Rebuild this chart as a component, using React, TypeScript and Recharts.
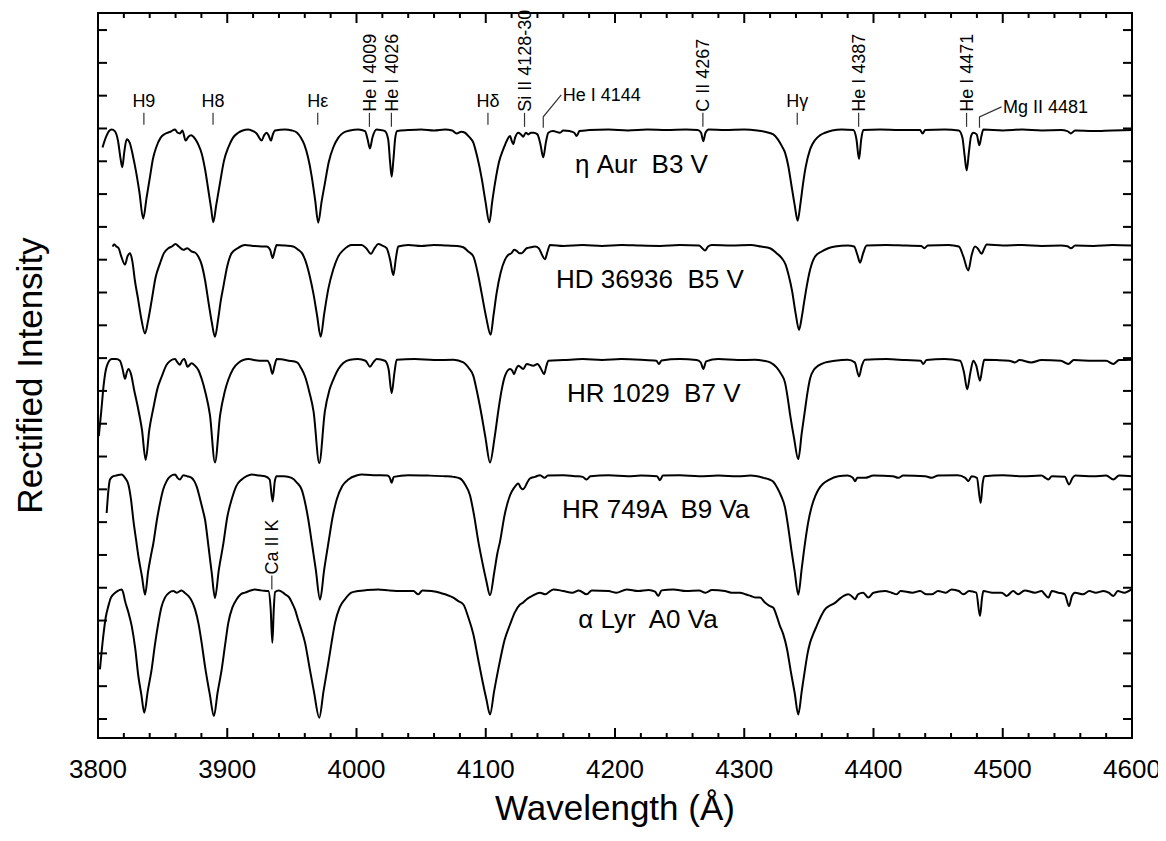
import { LineChart, Line, XAxis, YAxis, ReferenceDot } from "recharts";

const FONT = 'Arial, "Liberation Sans", Helvetica, sans-serif';

// wavelength ticks (Å), minor every 20, labelled every 100
const xTicks = [
  3800, 3820, 3840, 3860, 3880, 3900, 3920, 3940, 3960, 3980, 4000, 4020, 4040, 4060,
  4080, 4100, 4120, 4140, 4160, 4180, 4200, 4220, 4240, 4260, 4280, 4300, 4320, 4340,
  4360, 4380, 4400, 4420, 4440, 4460, 4480, 4500, 4520, 4540, 4560, 4580, 4600,
];
const yTicks = [
  0, 0.1, 0.2, 0.3, 0.4, 0.5, 0.6, 0.7, 0.8, 0.9, 1.0, 1.1, 1.2, 1.3, 1.4, 1.5, 1.6,
  1.7, 1.8, 1.9, 2.0, 2.1,
];

// rectified intensity (continuum = 1): [wavelength, intensity]
const etaAur = [
  [3803.5, 0.945], [3806, 0.975], [3808.5, 0.995], [3810.6, 1.0], [3813, 0.995], [3815.5, 0.965],
  [3817.5, 0.91], [3818.8, 0.885], [3820.3, 0.93], [3822.2, 0.97], [3824.5, 0.96], [3827, 0.92],
  [3829.5, 0.87], [3832, 0.81], [3835, 0.728], [3837.5, 0.79], [3840, 0.85], [3842.5, 0.91],
  [3845, 0.945], [3848.5, 0.975], [3852, 0.987], [3856, 0.993], [3859.6, 1.0], [3861.5, 0.99],
  [3863.4, 0.988], [3865.3, 0.997], [3867.8, 0.966], [3870, 0.978], [3872, 0.982], [3875, 0.972],
  [3877.5, 0.955], [3880.2, 0.927], [3883, 0.875], [3885.3, 0.817], [3887.5, 0.76], [3889.2, 0.717],
  [3891.5, 0.77], [3894.4, 0.837], [3897.5, 0.905], [3900.8, 0.945], [3904.5, 0.975], [3908.5, 0.99],
  [3912, 0.997], [3916.3, 1.0], [3920, 0.995], [3922.8, 0.987], [3924.7, 0.975], [3926.6, 0.966],
  [3928.5, 0.982], [3930.5, 0.99], [3932.2, 0.98], [3933.8, 0.966], [3935.3, 0.985], [3937, 0.997],
  [3944.7, 1.0], [3950, 0.997], [3954, 0.99], [3957, 0.975], [3959.5, 0.955], [3962.5, 0.915],
  [3965.3, 0.858], [3968, 0.785], [3970.4, 0.716], [3973, 0.78], [3975.6, 0.837], [3978.5, 0.9],
  [3982, 0.945], [3986, 0.975], [3989.8, 0.99], [3995, 0.997], [4001.4, 1.0], [4006.6, 0.995],
  [4008.6, 0.97], [4010.4, 0.942], [4012.3, 0.975], [4015.6, 1.0], [4019, 0.998], [4022, 0.995],
  [4024.5, 0.97], [4026, 0.9], [4027.2, 0.856], [4028.6, 0.91], [4030, 0.975], [4031.5, 0.995],
  [4040, 0.998], [4050, 1.0], [4060, 0.997], [4068.5, 1.0], [4074, 0.997], [4077.5, 0.988],
  [4081, 0.993], [4084, 0.99], [4087, 0.978], [4090.4, 0.96], [4093.5, 0.915], [4096.9, 0.85],
  [4099.8, 0.78], [4102.8, 0.717], [4105, 0.78], [4107.2, 0.837], [4110.2, 0.9], [4113.6, 0.94],
  [4116.2, 0.965], [4118.8, 0.98], [4120.1, 0.965], [4121.3, 0.955], [4122.7, 0.975], [4125.2, 0.99],
  [4127.2, 0.985], [4129, 0.978], [4131, 0.99], [4132.9, 0.985], [4135, 0.99], [4137, 0.99],
  [4140, 0.985], [4142.3, 0.955], [4144.5, 0.915], [4146.5, 0.96], [4148.4, 0.99], [4152, 0.995],
  [4157.4, 0.99], [4160, 0.997], [4165, 0.995], [4168.5, 0.99], [4170.3, 0.98], [4172.5, 0.995],
  [4180, 0.998], [4195, 1.0], [4210, 0.997], [4225, 1.0], [4240, 0.998], [4255, 1.0], [4264, 0.998],
  [4266.6, 0.99], [4268.3, 0.964], [4270, 0.99], [4272.5, 1.0], [4285, 0.998], [4300, 1.0],
  [4310, 0.997], [4316, 0.993], [4322.5, 0.985], [4326, 0.97], [4329, 0.95], [4331.5, 0.93],
  [4334, 0.89], [4336.5, 0.83], [4339, 0.77], [4341.3, 0.722], [4343.5, 0.775], [4345.5, 0.835],
  [4347.5, 0.885], [4351, 0.94], [4354.8, 0.968], [4358.5, 0.982], [4362.5, 0.99], [4368, 0.997],
  [4375.4, 1.0], [4384.4, 0.998], [4386.8, 0.97], [4388.8, 0.91], [4390.5, 0.97], [4392.1, 0.998],
  [4405, 1.0], [4420, 0.998], [4436, 0.998], [4438, 0.988], [4440, 0.998], [4455, 1.0],
  [4466, 0.997], [4468.8, 0.975], [4470.5, 0.92], [4472.1, 0.875], [4473.8, 0.93], [4475.5, 0.98],
  [4477.2, 0.99], [4479.8, 0.985], [4481.9, 0.952], [4483.5, 0.98], [4485, 1.0], [4500, 0.997],
  [4515, 1.0], [4530, 0.997], [4545, 0.998], [4550, 0.995], [4552.8, 0.988], [4556, 0.997],
  [4570, 0.995], [4585, 0.997], [4600, 0.998],
];

const hd36936 = [
  [3811.3, 0.995], [3812.5, 1.002], [3814, 0.996], [3816, 0.99], [3818, 0.965], [3820.9, 0.94],
  [3822.8, 0.965], [3824.8, 0.975], [3826.6, 0.95], [3828.6, 0.89], [3831, 0.835], [3833.5, 0.775],
  [3836.4, 0.73], [3838.8, 0.77], [3841.5, 0.83], [3844.5, 0.9], [3848, 0.944], [3851, 0.975],
  [3854.4, 0.99], [3857, 0.995], [3860, 1.003], [3862.5, 0.995], [3866, 0.985], [3869, 0.99],
  [3872.5, 0.98], [3875, 0.977], [3877.6, 0.965], [3880.2, 0.94], [3882.8, 0.893], [3885.5, 0.825],
  [3888, 0.765], [3890.5, 0.72], [3893, 0.775], [3895, 0.83], [3897, 0.873], [3900, 0.935],
  [3903.4, 0.975], [3908, 0.99], [3913.7, 1.0], [3920, 0.997], [3926.6, 0.995], [3930.5, 0.995],
  [3933.2, 0.985], [3935.1, 0.96], [3936.7, 0.982], [3938.2, 1.0], [3945, 0.998], [3951, 0.995],
  [3955, 0.985], [3957.8, 0.975], [3960.2, 0.955], [3963.5, 0.91], [3966.6, 0.853], [3969.5, 0.785],
  [3972.3, 0.72], [3975, 0.79], [3978.2, 0.866], [3982, 0.925], [3985.9, 0.965], [3990, 0.985],
  [3996.3, 1.0], [4004, 1.0], [4007.5, 0.99], [4011.2, 0.973], [4014, 0.99], [4016.9, 1.003],
  [4020, 0.998], [4023.3, 0.99], [4026, 0.955], [4028.5, 0.908], [4030.5, 0.96], [4032.3, 0.995],
  [4040, 1.0], [4050, 0.997], [4060, 1.0], [4070, 0.998], [4078, 0.997], [4082.6, 0.993],
  [4086.5, 0.98], [4090.4, 0.965], [4093.5, 0.92], [4096.8, 0.853], [4100.3, 0.78], [4103.8, 0.726],
  [4106, 0.785], [4108.4, 0.853], [4111.5, 0.915], [4114.9, 0.955], [4117.5, 0.97], [4120, 0.975],
  [4122, 0.985], [4123.9, 0.982], [4126, 0.975], [4127.8, 0.975], [4131.6, 0.99], [4135, 0.993],
  [4138.1, 0.995], [4141, 0.99], [4143.5, 0.97], [4145.8, 0.956], [4147.8, 0.98], [4149.7, 1.0],
  [4160, 0.997], [4175, 1.0], [4190, 0.997], [4205, 1.0], [4220, 0.998], [4235, 0.997], [4250, 1.0],
  [4265, 0.998], [4267.5, 0.99], [4269.6, 0.983], [4272, 0.995], [4275, 1.0], [4290, 0.998],
  [4305, 1.0], [4313, 0.995], [4319.9, 0.99], [4325, 0.975], [4329, 0.96], [4332, 0.94],
  [4334.5, 0.905], [4337, 0.86], [4339.8, 0.79], [4342.4, 0.741], [4344.5, 0.78], [4346.5, 0.83],
  [4348.3, 0.873], [4351, 0.925], [4354.7, 0.964], [4359.9, 0.98], [4365, 0.99], [4370.2, 0.995],
  [4380, 0.998], [4385, 0.995], [4387.5, 0.97], [4389.6, 0.946], [4392, 0.975], [4394.7, 0.998],
  [4410, 1.0], [4425, 0.998], [4437, 0.997], [4439.3, 0.99], [4442, 0.998], [4458, 1.0],
  [4466, 0.995], [4469.5, 0.965], [4473.3, 0.922], [4476, 0.97], [4478.5, 0.995], [4480.5, 0.99],
  [4483.6, 0.973], [4485.8, 0.99], [4487.5, 1.001], [4500, 0.998], [4515, 1.0], [4530, 0.997],
  [4545, 0.998], [4550, 0.996], [4552.8, 0.99], [4556, 0.998], [4570, 0.997], [4585, 1.0],
  [4600, 0.998],
];

const hr1029 = [
  [3800.6, 0.765], [3802.5, 0.84], [3804.5, 0.925], [3806.7, 0.977], [3810.6, 1.0], [3814, 1.0],
  [3817, 0.995], [3819, 0.97], [3820.9, 0.94], [3822.3, 0.96], [3823.6, 0.97], [3825.5, 0.955],
  [3828, 0.905], [3831, 0.85], [3834, 0.785], [3836.9, 0.693], [3839.7, 0.785], [3842.8, 0.85],
  [3846, 0.91], [3849.3, 0.947], [3853.1, 0.983], [3856, 0.995], [3859.6, 1.0], [3861.5, 0.99],
  [3863.4, 0.983], [3865, 0.995], [3866.8, 1.0], [3869.3, 0.977], [3872.4, 0.987], [3875, 0.98],
  [3877.6, 0.967], [3880.2, 0.94], [3883, 0.9], [3886.6, 0.83], [3890.5, 0.685], [3894.5, 0.83],
  [3898, 0.9], [3900.8, 0.937], [3904.5, 0.97], [3908.5, 0.988], [3916.3, 1.0], [3925, 0.995],
  [3931, 0.995], [3933.2, 0.98], [3934.9, 0.955], [3936.6, 0.98], [3938.3, 1.0], [3948, 0.995],
  [3954, 0.99], [3957.2, 0.972], [3960.2, 0.947], [3963.5, 0.9], [3966.8, 0.84], [3971.2, 0.683],
  [3975.5, 0.84], [3979, 0.905], [3982, 0.937], [3986, 0.97], [3989.8, 0.988], [3995, 0.998],
  [4001, 1.0], [4007, 0.995], [4010.4, 0.977], [4013, 0.99], [4015.6, 1.0], [4022, 0.995],
  [4024.8, 0.97], [4027.2, 0.896], [4029.4, 0.96], [4031.1, 0.998], [4045, 1.0], [4060, 0.997],
  [4075, 0.998], [4082.7, 0.99], [4087, 0.972], [4090.4, 0.949], [4093, 0.905], [4096.5, 0.835],
  [4099.8, 0.76], [4103.3, 0.685], [4106.8, 0.76], [4110, 0.85], [4112.5, 0.91], [4114.9, 0.949],
  [4118.8, 0.97], [4120.5, 0.965], [4121.9, 0.954], [4123.5, 0.97], [4125.2, 0.98], [4129, 0.97],
  [4131.7, 0.985], [4136.8, 0.98], [4140, 0.985], [4142.8, 0.97], [4145.1, 0.954], [4147, 0.98],
  [4148.4, 0.995], [4160, 0.997], [4175, 1.0], [4190, 0.997], [4205, 1.0], [4220, 0.998],
  [4232, 0.995], [4234, 0.985], [4236, 0.996], [4250, 1.0], [4263, 0.997], [4266.3, 0.99],
  [4268.3, 0.97], [4270.5, 0.993], [4280, 1.0], [4295, 0.997], [4308, 0.998], [4315, 0.995],
  [4320, 0.99], [4325, 0.975], [4328.5, 0.955], [4331.5, 0.929], [4333.5, 0.885], [4335.5, 0.83],
  [4338.5, 0.76], [4341.8, 0.695], [4344.5, 0.775], [4347, 0.845], [4349, 0.9], [4350.9, 0.94],
  [4354, 0.968], [4357.3, 0.98], [4363, 0.99], [4370.2, 0.995], [4380, 0.998], [4385.5, 0.99],
  [4388.8, 0.947], [4391, 0.98], [4393.4, 0.998], [4410, 1.0], [4425, 0.997], [4436.5, 0.995],
  [4438.5, 0.985], [4441, 0.997], [4455, 1.0], [4467, 0.995], [4470, 0.96], [4472.5, 0.908],
  [4475, 0.96], [4477.2, 0.995], [4479.5, 0.98], [4482.4, 0.934], [4484.3, 0.975], [4485.7, 0.998],
  [4495, 0.997], [4505, 0.995], [4509.4, 0.99], [4513, 0.997], [4522, 0.99], [4530, 0.997],
  [4545, 0.995], [4550.7, 0.985], [4555, 0.997], [4570, 0.995], [4580, 0.995], [4585.5, 0.985],
  [4590, 0.997], [4600, 0.998],
];

const hr749a = [
  [3806.7, 0.883], [3808, 0.95], [3809.3, 0.985], [3811.9, 0.995], [3815, 0.998], [3818.3, 1.0],
  [3820.9, 0.99], [3823.5, 0.97], [3825.5, 0.925], [3827.3, 0.863], [3829.5, 0.8], [3831.5, 0.745],
  [3834, 0.69], [3836.4, 0.634], [3838.8, 0.705], [3840.8, 0.75], [3842.8, 0.79], [3845.5, 0.86],
  [3848, 0.913], [3850.5, 0.955], [3853.1, 0.98], [3856, 0.995], [3859.6, 1.0], [3861.5, 0.99],
  [3863.4, 0.985], [3866, 0.998], [3869, 0.995], [3872.5, 0.99], [3874.5, 0.98], [3876.3, 0.964],
  [3879, 0.925], [3880.9, 0.895], [3882.8, 0.863], [3885.5, 0.78], [3888, 0.7], [3890.5, 0.624],
  [3893.5, 0.71], [3897, 0.79], [3900, 0.87], [3903.4, 0.924], [3907, 0.965], [3911.2, 0.985],
  [3915, 0.995], [3918.9, 1.0], [3925, 0.997], [3929.2, 0.995], [3932.8, 0.985], [3935.1, 0.918],
  [3936.8, 0.98], [3938.2, 0.995], [3944, 0.995], [3949.8, 0.99], [3954, 0.975], [3957.6, 0.954],
  [3960.2, 0.915], [3962.7, 0.863], [3965.5, 0.79], [3968.5, 0.71], [3971.8, 0.619], [3975, 0.71],
  [3978.2, 0.79], [3981.5, 0.87], [3984.7, 0.924], [3989, 0.965], [3993.7, 0.985], [4000, 0.997],
  [4004, 1.0], [4015, 0.998], [4024, 0.997], [4025.8, 0.99], [4027.2, 0.975], [4028.8, 0.993],
  [4040, 0.998], [4055, 0.997], [4068.5, 0.995], [4075, 0.993], [4080.1, 0.988], [4084, 0.97],
  [4087.8, 0.937], [4091, 0.875], [4094.3, 0.795], [4097.5, 0.73], [4100.5, 0.675], [4103.3, 0.632],
  [4106.5, 0.7], [4109, 0.76], [4111, 0.795], [4114.5, 0.875], [4118.8, 0.937], [4122, 0.96],
  [4125.2, 0.973], [4127, 0.96], [4128.5, 0.955], [4130.4, 0.962], [4132, 0.975], [4134.2, 0.988],
  [4138, 0.993], [4142, 0.998], [4145.5, 0.99], [4148, 0.997], [4160, 0.998], [4170, 0.995],
  [4175, 0.993], [4178, 0.985], [4181, 0.995], [4195, 0.998], [4210, 0.995], [4220, 0.997],
  [4232.5, 0.995], [4234.8, 0.983], [4237, 0.997], [4250, 0.998], [4265, 0.995], [4280, 0.997],
  [4295, 0.995], [4305, 0.997], [4315, 0.99], [4319.5, 0.985], [4322.5, 0.978], [4325.5, 0.96],
  [4328.5, 0.935], [4331.5, 0.9], [4334, 0.84], [4336.5, 0.77], [4339, 0.705], [4341.8, 0.634],
  [4344.5, 0.715], [4347, 0.791], [4349.5, 0.855], [4352.2, 0.903], [4355, 0.935], [4357.3, 0.954],
  [4361, 0.972], [4365.1, 0.983], [4372.8, 0.995], [4380, 0.997], [4384, 0.99], [4385.7, 0.98],
  [4387.5, 0.99], [4393.4, 0.99], [4400, 0.997], [4415, 0.995], [4419.2, 0.99], [4423, 0.997],
  [4440, 0.995], [4445, 0.99], [4450, 0.997], [4465, 0.998], [4471, 0.99], [4473.4, 0.98],
  [4476, 0.995], [4480, 0.99], [4482.9, 0.913], [4484.5, 0.975], [4485.7, 0.995], [4500, 0.998],
  [4515, 0.995], [4530, 0.997], [4533, 0.99], [4535.3, 0.985], [4538, 0.995], [4548, 0.993],
  [4551.3, 0.97], [4554, 0.99], [4556, 0.997], [4570, 0.995], [4580, 0.997], [4585.6, 0.985],
  [4590, 0.997], [4600, 0.995],
];

const alphaLyr = [
  [3801.5, 0.756], [3804.1, 0.858], [3806, 0.915], [3808, 0.949], [3810, 0.975], [3811.9, 0.985],
  [3815, 0.995], [3818.3, 1.0], [3819.5, 0.99], [3820.9, 0.965], [3823.5, 0.93], [3826.1, 0.888],
  [3828.8, 0.82], [3831.2, 0.736], [3833.5, 0.68], [3835.8, 0.624], [3838.5, 0.69], [3841.5, 0.756],
  [3844, 0.83], [3846.7, 0.898], [3849, 0.945], [3851.8, 0.975], [3855, 0.99], [3858.3, 0.995],
  [3861, 0.99], [3864.7, 0.997], [3867, 0.99], [3869.9, 0.98], [3872.5, 0.965], [3875.1, 0.939],
  [3877.8, 0.895], [3880.2, 0.837], [3883, 0.76], [3886.5, 0.68], [3889.7, 0.614], [3892.5, 0.685],
  [3895.7, 0.756], [3898.3, 0.83], [3900.8, 0.898], [3904, 0.945], [3907.3, 0.97], [3910.5, 0.985],
  [3913.7, 0.99], [3917, 0.995], [3921.5, 1.0], [3926, 0.997], [3931.8, 0.995], [3933.6, 0.94],
  [3934.9, 0.837], [3936, 0.94], [3937, 0.992], [3940, 0.997], [3944.7, 0.985], [3948, 0.975],
  [3950, 0.96], [3952.4, 0.939], [3955, 0.905], [3957.5, 0.875], [3960.2, 0.837], [3963.5, 0.765],
  [3967, 0.69], [3971.2, 0.609], [3974.5, 0.69], [3978.2, 0.776], [3980.8, 0.84], [3983.4, 0.898],
  [3987, 0.945], [3991.1, 0.97], [3996, 0.99], [4001.4, 0.995], [4008, 0.998], [4016.9, 1.0],
  [4025, 0.997], [4035, 0.995], [4044, 0.995], [4047.8, 0.985], [4051, 0.997], [4058, 0.995],
  [4064.6, 0.99], [4068.5, 0.985], [4074.9, 0.975], [4078.5, 0.965], [4082.7, 0.954], [4086.5, 0.915],
  [4090.4, 0.863], [4094, 0.79], [4097.5, 0.72], [4100.5, 0.665], [4103.3, 0.619], [4106.5, 0.69],
  [4111, 0.782], [4114.5, 0.845], [4118.8, 0.893], [4122.5, 0.93], [4126.5, 0.954], [4129, 0.96],
  [4131.7, 0.97], [4136, 0.98], [4142, 0.99], [4146, 0.985], [4152.3, 1.0], [4160, 0.995],
  [4167, 0.99], [4172, 0.997], [4178.1, 0.985], [4182, 0.997], [4195, 0.995], [4201, 0.99],
  [4209, 1.0], [4218, 0.995], [4226, 0.998], [4231, 0.993], [4233.5, 0.98], [4236, 0.997],
  [4245.1, 1.0], [4255, 0.995], [4265, 0.997], [4270, 0.99], [4275, 0.998], [4285, 0.995],
  [4290, 0.99], [4296.7, 0.99], [4301, 0.985], [4305, 0.98], [4309, 0.975], [4312.2, 0.975],
  [4316, 0.96], [4319.5, 0.95], [4322.5, 0.944], [4325, 0.92], [4327.5, 0.89], [4330.2, 0.863],
  [4333, 0.82], [4336, 0.75], [4339, 0.685], [4341.8, 0.619], [4344.5, 0.69], [4347, 0.756],
  [4349, 0.805], [4350.9, 0.837], [4353.5, 0.865], [4356, 0.888], [4359, 0.915], [4362.5, 0.939],
  [4366, 0.95], [4370.2, 0.959], [4375, 0.975], [4380.5, 0.985], [4383, 0.98], [4385.7, 0.97],
  [4388, 0.985], [4392, 0.99], [4396, 0.975], [4400, 0.99], [4408.9, 0.995], [4414, 0.99],
  [4417.9, 0.985], [4421, 0.995], [4430, 0.99], [4436, 0.995], [4441, 0.985], [4445, 0.985],
  [4450, 0.995], [4456, 0.99], [4460.5, 1.0], [4466, 0.995], [4469.5, 0.985], [4474, 0.995],
  [4479.5, 0.99], [4482.4, 0.919], [4484, 0.975], [4485, 0.995], [4492, 0.99], [4499.2, 0.99],
  [4503, 0.98], [4508, 0.995], [4512, 0.985], [4517, 0.997], [4524.9, 0.99], [4530, 0.995],
  [4532.5, 0.985], [4535.3, 0.975], [4538, 0.995], [4543, 0.99], [4548, 0.985], [4551.3, 0.949],
  [4553.5, 0.98], [4555.9, 0.99], [4562, 0.985], [4567, 0.995], [4572, 0.99], [4578, 0.995],
  [4582, 0.99], [4585.6, 0.98], [4589, 0.995], [4594, 0.99], [4599.7, 1.0],
];

const starNames = ["η Aur  B3 V", "HD 36936  B5 V", "HR 1029  B7 V", "HR 749A  B9 Va", "α Lyr  A0 Va"];
const starOffsets = [0.797, 0.445, 0.097, -0.255, -0.605];
// where each star name sits: [wavelength, baseline level]
const starLabelAt = [[4220.5, 1.665], [4227, 1.314], [4230, 0.966], [4231.5, 0.613], [4225.5, 0.277]];

// line identifications along the top, plus Ca II K on the bottom spectrum
const idNames = [
  "H9", "H8", "Hε", "He I 4009", "He I 4026", "Hδ", "Si II 4128-30", "He I 4144",
  "C II 4267", "Hγ", "He I 4387", "He I 4471", "Mg II 4481", "Ca II K",
];
const idWavelengths = [3835.5, 3889, 3970, 4010, 4027, 4101.7, 4130, 4144.5, 4268, 4341, 4388.5, 4472, 4482, 3934.5];
const idLevels = [1.805, 1.805, 1.805, 1.805, 1.805, 1.805, 1.805, 1.805, 1.805, 1.805, 1.805, 1.805, 1.805, 0.395];
const idKinds = ["h", "h", "h", "v", "v", "h", "v", "leader", "v", "h", "v", "v", "leader", "v"];
const leaderEnds: Record<string, [number, number]> = { "He I 4144": [18, -32], "Mg II 4481": [22, -20] };

const spectra = [etaAur, hd36936, hr1029, hr749a, alphaLyr].map((pts, i) =>
  pts.map(([w, v]) => ({ w, v: v + starOffsets[i] }))
);

const BottomTick = ({ x, y, payload }: any) => {
  const major = payload.value % 100 === 0;
  return (
    <g>
      <line x1={x} x2={x} y1={y} y2={y - (major ? 10 : 5)} stroke="#000" strokeWidth={2} />
      {major && (
        <text x={x} y={y + 40} textAnchor="middle" fontSize={26} fontFamily={FONT} fill="#000">
          {payload.value}
        </text>
      )}
    </g>
  );
};

const TopTick = ({ x, y, payload }: any) => (
  <line x1={x} x2={x} y1={y} y2={y + (payload.value % 100 === 0 ? 10 : 5)} stroke="#000" strokeWidth={2} />
);

const LeftTick = ({ x, y }: any) => <line x1={x} x2={x + 9} y1={y} y2={y} stroke="#000" strokeWidth={2} />;
const RightTick = ({ x, y }: any) => <line x1={x} x2={x - 9} y1={y} y2={y} stroke="#000" strokeWidth={2} />;

const XTitle = ({ viewBox }: any) => (
  <text x={viewBox.x + viewBox.width / 2} y={viewBox.y + 82} textAnchor="middle" fontSize={35} fontFamily={FONT} fill="#000">
    Wavelength (Å)
  </text>
);

const YTitle = ({ viewBox }: any) => {
  const cx = viewBox.x + 22;
  const cy = viewBox.y + viewBox.height / 2;
  return (
    <text x={cx} y={cy} dy="0.35em" transform={`rotate(-90 ${cx} ${cy})`} textAnchor="middle" fontSize={35} fontFamily={FONT} fill="#000">
      Rectified Intensity
    </text>
  );
};

const idText = { fontSize: 18, fontFamily: FONT, fill: "#000" };

const IdMark = ({ cx, cy, name, kind }: any) => {
  if (kind === "h") {
    return (
      <g>
        <line x1={cx} x2={cx} y1={cy - 2} y2={cy - 14} stroke="#333" strokeWidth={1.2} />
        <text x={cx} y={cy - 20} textAnchor="middle" {...idText}>{name}</text>
      </g>
    );
  }
  if (kind === "leader") {
    const [dx, dy] = leaderEnds[name];
    return (
      <g>
        <polyline points={`${cx},${cy + 1} ${cx},${cy - 10} ${cx + dx},${cy + dy}`} fill="none" stroke="#333" strokeWidth={1.2} />
        <text x={cx + dx + 1.5} y={cy + dy} dy="0.35em" {...idText}>{name}</text>
      </g>
    );
  }
  const ty = cy - 15;
  return (
    <g>
      <line x1={cx} x2={cx} y1={cy} y2={cy - 14} stroke="#333" strokeWidth={1.2} />
      <text x={cx} y={ty} dy="0.35em" transform={`rotate(-90 ${cx} ${ty})`} {...idText}>{name}</text>
    </g>
  );
};

export default function App() {
  return (
    <div style={{ width: 1158, height: 833 }}>
      <LineChart width={1158} height={833} margin={{ top: 4, right: 33, bottom: 13, left: 0 }} style={{ fontFamily: FONT }}>
        <XAxis
          xAxisId="b"
          type="number"
          dataKey="w"
          domain={[3800, 4600]}
          ticks={xTicks}
          interval={0}
          tickSize={0}
          tickMargin={0}
          tickLine={false}
          tick={BottomTick}
          axisLine={{ stroke: "#000", strokeWidth: 2, strokeLinecap: "square" }}
          height={90}
          allowDataOverflow
          label={<XTitle />}
        />
        <XAxis
          xAxisId="t"
          orientation="top"
          type="number"
          dataKey="w"
          domain={[3800, 4600]}
          ticks={xTicks}
          interval={0}
          tickSize={0}
          tickMargin={0}
          tickLine={false}
          tick={TopTick}
          axisLine={{ stroke: "#000", strokeWidth: 2, strokeLinecap: "square" }}
          height={1}
          allowDataOverflow
        />
        <YAxis
          yAxisId="l"
          type="number"
          domain={[-0.058, 2.152]}
          ticks={yTicks}
          interval={0}
          tickSize={0}
          tickMargin={0}
          tickLine={false}
          tick={LeftTick}
          axisLine={{ stroke: "#000", strokeWidth: 2, strokeLinecap: "square" }}
          width={90}
          allowDataOverflow
          label={<YTitle />}
        />
        <YAxis
          yAxisId="r"
          orientation="right"
          type="number"
          domain={[-0.058, 2.152]}
          ticks={yTicks}
          interval={0}
          tickSize={0}
          tickMargin={0}
          tickLine={false}
          tick={RightTick}
          axisLine={{ stroke: "#000", strokeWidth: 2, strokeLinecap: "square" }}
          width={1}
          allowDataOverflow
        />
        {spectra.map((data, i) => (
          <Line
            key={starNames[i]}
            xAxisId="b"
            yAxisId="l"
            data={data}
            dataKey="v"
            type="monotone"
            dot={false}
            stroke="#000"
            strokeWidth={2}
            isAnimationActive={false}
          />
        ))}
        {idNames.map((name, i) => (
          <ReferenceDot
            key={name}
            xAxisId="b"
            yAxisId="l"
            x={idWavelengths[i]}
            y={idLevels[i]}
            ifOverflow="visible"
            shape={(p: any) => <IdMark cx={p.cx} cy={p.cy} name={name} kind={idKinds[i]} />}
          />
        ))}
        {starNames.map((name, i) => (
          <ReferenceDot
            key={"lbl" + name}
            xAxisId="b"
            yAxisId="l"
            x={starLabelAt[i][0]}
            y={starLabelAt[i][1]}
            ifOverflow="visible"
            shape={(p: any) => (
              <text x={p.cx} y={p.cy} textAnchor="middle" fontSize={26} fontFamily={FONT} fill="#000" style={{ whiteSpace: "pre" }}>
                {name}
              </text>
            )}
          />
        ))}
      </LineChart>
    </div>
  );
}
